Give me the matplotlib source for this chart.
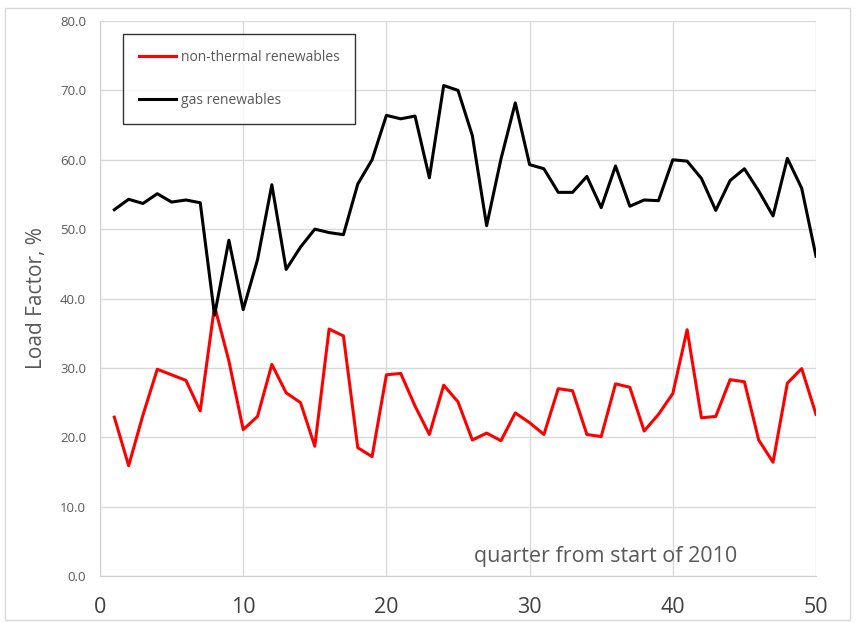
import matplotlib
matplotlib.use("Agg")
import matplotlib.pyplot as plt
from matplotlib.patches import Rectangle

plt.rcParams['font.family'] = ['Open Sans', 'DejaVu Sans']

quarters = list(range(1, 51))

gas = [52.8, 54.3, 53.7, 55.1, 53.9, 54.2, 53.8, 37.6, 48.4, 38.4,
       45.6, 56.4, 44.2, 47.4, 50.0, 49.5, 49.2, 56.5, 60.0, 66.4,
       65.9, 66.3, 57.4, 70.7, 70.0, 63.5, 50.5, 60.1, 68.2, 59.3,
       58.7, 55.3, 55.3, 57.6, 53.1, 59.1, 53.3, 54.2, 54.1, 60.0,
       59.8, 57.3, 52.7, 57.0, 58.7, 55.5, 51.9, 60.2, 55.9, 46.1]

non_thermal = [22.9, 15.9, 23.2, 29.8, 29.0, 28.2, 23.8, 38.9, 31.0, 21.1,
               23.0, 30.5, 26.4, 25.0, 18.7, 35.6, 34.6, 18.5, 17.2, 29.0,
               29.2, 24.5, 20.4, 27.5, 25.1, 19.6, 20.6, 19.5, 23.5, 22.1,
               20.4, 27.0, 26.7, 20.4, 20.1, 27.7, 27.2, 20.9, 23.3, 26.3,
               35.5, 22.8, 23.0, 28.3, 28.0, 19.6, 16.4, 27.8, 29.9, 23.3]

x_ticks = [0, 10, 20, 30, 40, 50]
y_ticks = [0, 10, 20, 30, 40, 50, 60, 70, 80]

fig = plt.figure(figsize=(8.61, 6.23), dpi=100)
ax = fig.add_axes([100 / 861, 1 - 576 / 623, 716 / 861, 555 / 623])

# light frame round the whole chart
fig.patches.append(Rectangle((5 / 861, 3 / 623), 845 / 861, 612 / 623,
                             transform=fig.transFigure, fill=False,
                             edgecolor='#d9d9d9', linewidth=1))

ax.plot(quarters, non_thermal, color='#ff0000', lw=2.2, label='non-thermal renewables')
ax.plot(quarters, gas, color='black', lw=2.2, label='gas renewables')

ax.set_xlim(0, 50)
ax.set_ylim(0, 80)
ax.set_xticks(x_ticks)
ax.set_yticks(y_ticks)
ax.set_yticklabels([f"{v:.1f}" for v in y_ticks])
ax.tick_params(axis='y', length=0, labelsize=9.5, labelcolor='#595959', pad=10)
ax.tick_params(axis='x', length=0, labelsize=15.5, labelcolor='#404040', pad=15)

ax.grid(True, color='#d9d9d9', lw=1)
ax.set_axisbelow(True)
for side in ['top', 'right']:
    ax.spines[side].set_visible(False)
for side in ['left', 'bottom']:
    ax.spines[side].set_color('#d0d0d0')

ax.set_ylabel('Load Factor, %', fontsize=15, color='#595959', labelpad=9)
ax.text(35.3, 2.8, 'quarter from start of 2010', fontsize=15.5, color='#595959',
        ha='center', va='center')

leg = ax.legend(loc='upper left', bbox_to_anchor=(23 / 716, 1 - 13 / 555),
                fontsize=10, frameon=True, fancybox=False, labelspacing=2.0,
                handlelength=2.7, handletextpad=0.3, borderpad=1.15,
                borderaxespad=0)
leg.get_frame().set_edgecolor('black')
leg.get_frame().set_linewidth(1)
for t in leg.get_texts():
    t.set_color('#595959')

fig.savefig('out.png', dpi=100)
